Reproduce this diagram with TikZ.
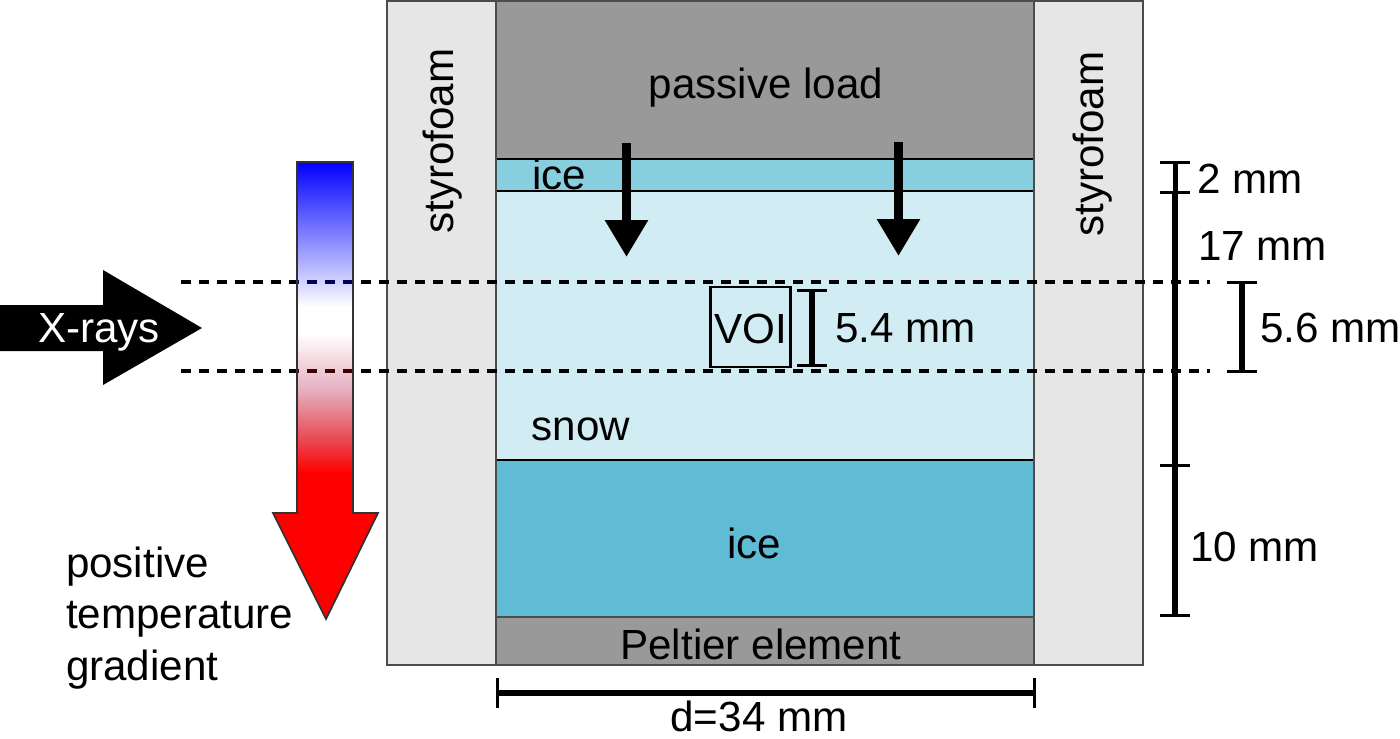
\documentclass[tikz,border=0pt]{standalone}
\usepackage{fontspec}
\setmainfont{Liberation Sans}
\usepackage{xcolor}
\usetikzlibrary{arrows.meta,positioning}
\definecolor{foamgray}{HTML}{E6E6E6}
\definecolor{loadgray}{HTML}{999999}
\definecolor{iceband}{HTML}{87CEDF}
\definecolor{snowblue}{HTML}{D2ECF3}
\definecolor{icedeep}{HTML}{60BBD4}
\definecolor{pinkmid}{HTML}{E6AEBE}
\definecolor{redmid}{HTML}{E84850}
\pgfdeclareverticalshading{tempgrad}{100bp}{color(0bp)=(red); color(41bp)=(red); color(44.6bp)=(redmid); color(50bp)=(pinkmid); color(56.3bp)=(white); color(59.1bp)=(white); color(75bp)=(blue); color(100bp)=(blue)}
\tikzset{
  layer/.style={rectangle, draw=black, line width=0.055cm, minimum width=10.76cm, inner sep=0pt, outer sep=0pt},
  foam/.style={rectangle, draw=black!70, fill=foamgray, line width=0.03cm, minimum width=2.18cm, minimum height=13.28cm, inner sep=0pt, outer sep=0pt},
  lbl/.style={font=\fontsize{24}{28}\selectfont, inner sep=0pt, outer sep=0pt, anchor=base},
  lblleft/.style={lbl, anchor=base west},
  dashline/.style={line width=0.09cm, dash pattern=on 0.2cm off 0.16cm},
  pressarrow/.style={line width=0.18cm, -{Triangle[length=0.74cm,width=0.82cm]}},
  dimbar/.style={line width=0.12cm},
  dimcap/.style={line width=0.06cm},
}
\begin{document}
\begin{tikzpicture}[x=0.02cm,y=-0.02cm]
    \useasboundingbox (0,0) rectangle (1400,738);

    % Sample stack
    \node [layer, draw=black!70, fill=loadgray, minimum height=3.16cm] (load) at (765,80) {};
    \node [layer, fill=iceband, minimum height=0.64cm, below=0pt of load] (thinice) {};
    \node [layer, fill=snowblue, minimum height=5.38cm, below=0pt of thinice] (snow) {};
    \node [layer, fill=icedeep, minimum height=3.14cm, below=0pt of snow] (thickice) {};
    \node [layer, draw=black!70, fill=loadgray, minimum height=0.96cm, below=0pt of thickice] (peltier) {};
    \node [foam, anchor=north east] (foamleft) at (load.north west) {};
    \node [foam, anchor=north west] (foamright) at (load.north east) {};

    % Dashed beam limits
    \coordinate (beamtopL) at (181,282);
    \coordinate (beamtopR) at (1210,282);
    \coordinate (beambotL) at (181,371);
    \coordinate (beambotR) at (1210,371);
    \draw [dashline] (beamtopL) -- (beamtopR);
    \draw [dashline] (beambotL) -- (beambotR);

    % X-rays and gradient
    \fill [black] (0,305) -- (103,305) -- (103,270) -- (202,328) -- (103,385) -- (103,351) -- (0,351) -- cycle;
    \shadedraw [shading=tempgrad, draw=black!80, line width=0.035cm]
        (297,162) -- (353,162) -- (353,513) -- (378,513) -- (326,619) -- (273,513) -- (297,513) -- cycle;
    \begin{scope}
        \clip (298,270) rectangle (352,380);
        \draw [dashline, color=blue!35!black] (beamtopL) -- (beamtopR);
        \draw [dashline, color=red!25!black] (beambotL) -- (beambotR);
    \end{scope}
    \node [lbl, text=white] (xrays) at (99,342) {X-rays};

    % Load arrows
    \coordinate (pressAa) at (626.5,143);
    \coordinate (pressAb) at (626.5,257);
    \coordinate (pressBa) at (898.5,142);
    \coordinate (pressBb) at (898.5,256);
    \draw [pressarrow] (pressAa) -- (pressAb);
    \draw [pressarrow] (pressBa) -- (pressBb);

    % VOI
    \node [draw=black, line width=0.055cm, minimum width=1.6cm, minimum height=1.6cm, inner sep=0pt, outer sep=0pt] (voibox) at (750.5,327) {};
    \node [lbl] (voi) at (751,343) {VOI};

    % Dimensions
    \coordinate (voitop) at (812,290);
    \coordinate (voibot) at (812,365);
    \draw [dimbar] (voitop) -- (voibot);
    \draw [dimcap] ([xshift=-0.3cm]voitop) -- ([xshift=0.3cm]voitop);
    \draw [dimcap] ([xshift=-0.3cm]voibot) -- ([xshift=0.3cm]voibot);

    \coordinate (scaleA) at (1175,162);
    \coordinate (scaleB) at (1175,192);
    \coordinate (scaleC) at (1175,465);
    \coordinate (scaleD) at (1175,615);
    \draw [line width=0.1cm] (scaleA) -- (scaleB);
    \draw [dimbar] (scaleB) -- (scaleD);
    \foreach \p in {scaleA,scaleB,scaleC,scaleD}
        \draw [dimcap] ([xshift=-0.3cm]\p) -- ([xshift=0.3cm]\p);

    \coordinate (beamA) at (1242,282);
    \coordinate (beamB) at (1242,371);
    \draw [dimbar] (beamA) -- (beamB);
    \draw [dimcap] ([xshift=-0.3cm]beamA) -- ([xshift=0.3cm]beamA);
    \draw [dimcap] ([xshift=-0.3cm]beamB) -- ([xshift=0.3cm]beamB);

    \coordinate (widthL) at (497,693);
    \coordinate (widthR) at (1034,693);
    \draw [dimbar] (widthL) -- (widthR);
    \draw [dimcap] ([yshift=-0.3cm]widthL) -- ([yshift=0.3cm]widthL);
    \draw [dimcap] ([yshift=-0.3cm]widthR) -- ([yshift=0.3cm]widthR);

    % Labels
    \node [lbl] (loadtxt) at (766,98) {passive load};
    \node [lbl] (icetxta) at (559,189) {ice};
    \node [lbl] (snowtxt) at (581,440) {snow};
    \node [lbl] (icetxtb) at (754,558) {ice};
    \node [lbl] (peltxt) at (761,659) {Peltier element};
    \node [lbl, rotate=90] (foamtxtl) at (453,141) {styrofoam};
    \node [lbl, rotate=90] (foamtxtr) at (1103,144) {styrofoam};
    \node [lblleft] (voidim) at (835,342) {5.4 mm};
    \node [lblleft] (dimtwo) at (1197,193) {2 mm};
    \node [lblleft] (dimsev) at (1198,260) {17 mm};
    \node [lblleft] (dimbeam) at (1260,342) {5.6 mm};
    \node [lblleft] (dimten) at (1190,561) {10 mm};
    \node [lbl] (dimd) at (759,731) {d=34 mm};
    \node [lblleft] (gradA) at (66,577) {positive};
    \node [lblleft] (gradB) at (66,628) {temperature};
    \node [lblleft] (gradC) at (66,680) {gradient};
\end{tikzpicture}
\end{document}
